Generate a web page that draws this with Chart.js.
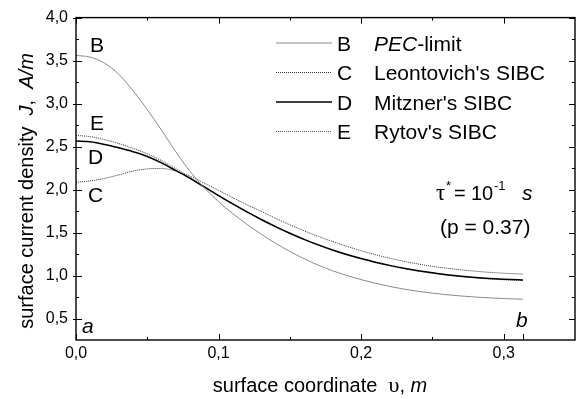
<!DOCTYPE html>
<html lang="en">
<head>
<meta charset="UTF-8">
<title>Surface current density</title>
<script src="https://cdn.jsdelivr.net/npm/chart.js"></script>
<style>
  html, body { margin: 0; padding: 0; background: #fff; }
  #wrap { width: 587px; height: 399px; }
</style>
</head>
<body>
<div id="wrap"><canvas id="chart" width="587" height="399"></canvas></div>
<script>
const coord = [0, 0.01, 0.02, 0.03, 0.04, 0.05, 0.06, 0.07, 0.08, 0.09, 0.10,
  0.11, 0.12, 0.13, 0.14, 0.15, 0.16, 0.17, 0.18, 0.19, 0.20,
  0.21, 0.22, 0.23, 0.24, 0.25, 0.26, 0.27, 0.28, 0.29, 0.30, 0.31, 0.3135];

// B - PEC limit
const pecLimit = [3.56, 3.54, 3.47, 3.34, 3.15, 2.93, 2.69, 2.44, 2.21, 2.02, 1.86,
  1.72, 1.595, 1.48, 1.375, 1.28, 1.195, 1.12, 1.055, 1.0, 0.952,
  0.91, 0.873, 0.842, 0.816, 0.795, 0.777, 0.762, 0.75, 0.74, 0.732, 0.726, 0.725];
// C - Leontovich's SIBC
const leontovich = [2.085, 2.10, 2.13, 2.17, 2.215, 2.24, 2.245, 2.215, 2.155, 2.075, 1.99,
  1.905, 1.823, 1.745, 1.665, 1.59, 1.52, 1.455, 1.395, 1.34, 1.288,
  1.242, 1.201, 1.165, 1.134, 1.107, 1.085, 1.066, 1.05, 1.037, 1.027, 1.019, 1.017];
// D - Mitzner's SIBC
const mitzner = [2.565, 2.555, 2.525, 2.485, 2.44, 2.385, 2.31, 2.22, 2.13, 2.03, 1.93,
  1.833, 1.74, 1.652, 1.569, 1.492, 1.421, 1.356, 1.297, 1.244, 1.197,
  1.155, 1.118, 1.085, 1.056, 1.031, 1.01, 0.992, 0.977, 0.965, 0.956, 0.95, 0.949];
// E - Rytov's SIBC
const rytov = [2.63, 2.615, 2.58, 2.535, 2.48, 2.415, 2.335, 2.24, 2.14, 2.035, 1.93,
  1.83, 1.736, 1.648, 1.565, 1.488, 1.417, 1.352, 1.293, 1.24, 1.193,
  1.151, 1.114, 1.081, 1.052, 1.027, 1.006, 0.988, 0.973, 0.961, 0.952, 0.946, 0.945];

const curveLetters = ['B', 'C', 'D', 'E'];
const legendNames = ['PEC-limit', "Leontovich's SIBC", "Mitzner's SIBC", "Rytov's SIBC"];

const xTickValues = [0, 0.1, 0.2, 0.3];
const xMinorValues = [0.05, 0.15, 0.25];
const endPoint = 0.3135; // point b
const yTickValues = [0.5, 1.0, 1.5, 2.0, 2.5, 3.0, 3.5, 4.0];
const yMinorValues = [0.75, 1.25, 1.75, 2.25, 2.75, 3.25, 3.75];

const ARIAL = '"Liberation Sans", Arial, sans-serif';
const SERIF = '"Liberation Serif", "Times New Roman", serif';

function toPoints(ys) {
  return coord.map((x, i) => ({ x: x, y: ys[i] }));
}

function commaNum(v) {
  return v.toFixed(1).replace('.', ',');
}

// draw a row of text pieces with different fonts
function drawRuns(ctx, parts, x, y) {
  parts.forEach(p => {
    ctx.font = p.f;
    ctx.fillText(p.t, x, y + (p.dy || 0));
    x += ctx.measureText(p.t).width;
  });
}
function runsWidth(ctx, parts) {
  return parts.reduce((w, p) => { ctx.font = p.f; return w + ctx.measureText(p.t).width; }, 0);
}

const extras = {
  id: 'extras',
  afterDraw(chart) {
    const { ctx, chartArea: a, scales: { x, y } } = chart;
    ctx.save();

    // frame
    ctx.strokeStyle = '#000';
    ctx.lineWidth = 1.4;
    ctx.strokeRect(a.left, a.top, a.right - a.left, a.bottom - a.top);

    // tick marks
    ctx.lineWidth = 1;
    ctx.beginPath();
    xTickValues.concat([endPoint]).forEach(v => {
      const px = Math.round(x.getPixelForValue(v)) + 0.5;
      ctx.moveTo(px, a.bottom); ctx.lineTo(px, a.bottom - 6);
      if (v !== endPoint) { ctx.moveTo(px, a.top); ctx.lineTo(px, a.top + 6); }
    });
    xMinorValues.forEach(v => {
      const px = Math.round(x.getPixelForValue(v)) + 0.5;
      ctx.moveTo(px, a.bottom); ctx.lineTo(px, a.bottom - 3);
      ctx.moveTo(px, a.top); ctx.lineTo(px, a.top + 3);
    });
    yTickValues.forEach(v => {
      const py = Math.round(y.getPixelForValue(v)) + 0.5;
      ctx.moveTo(a.left - 3, py); ctx.lineTo(a.left + 6, py);
      ctx.moveTo(a.right, py); ctx.lineTo(a.right - 6, py);
    });
    yMinorValues.forEach(v => {
      const py = Math.round(y.getPixelForValue(v)) + 0.5;
      ctx.moveTo(a.left, py); ctx.lineTo(a.left + 3, py);
      ctx.moveTo(a.right, py); ctx.lineTo(a.right - 3, py);
    });
    ctx.stroke();

    ctx.fillStyle = '#000';
    ctx.textBaseline = 'alphabetic';
    ctx.textAlign = 'left';
    const f20 = '20px ' + ARIAL;
    const f20i = 'italic 20px ' + ARIAL;
    const f21 = '21px ' + ARIAL;
    const f21i = 'italic 21px ' + ARIAL;

    // legend
    const rowBase = [50.5, 80, 109.5, 139];
    chart.data.datasets.forEach((ds, i) => {
      const ly = rowBase[i] - 7.5;
      ctx.save();
      ctx.strokeStyle = ds.borderColor;
      ctx.lineWidth = ds.borderWidth;
      ctx.setLineDash(ds.borderDash || []);
      ctx.beginPath();
      ctx.moveTo(276, ly); ctx.lineTo(332, ly);
      ctx.stroke();
      ctx.restore();
      ctx.font = f21;
      ctx.fillText(curveLetters[i], 337, rowBase[i]);
      if (i === 0) {
        drawRuns(ctx, [{ t: 'PEC', f: f21i }, { t: '-limit', f: f21 }], 374, rowBase[i]);
      } else {
        ctx.fillText(legendNames[i], 374, rowBase[i]);
      }
    });

    // curve letters at the left edge
    ctx.font = f21;
    ctx.fillText('B', 90, 52);
    ctx.fillText('E', 90, 130);
    ctx.fillText('D', 88, 164);
    ctx.fillText('C', 88, 202);
    ctx.font = f21i;
    ctx.fillText('a', 82, 332.5);
    ctx.fillText('b', 516, 326.5);

    // parameter note
    ctx.font = '23px ' + SERIF;
    ctx.fillText('\u03c4', 436, 200);
    ctx.font = '13px ' + ARIAL;
    ctx.fillText('*', 446, 190);
    ctx.font = f20;
    ctx.fillText('=', 454, 200);
    ctx.fillText('10', 471, 200);
    ctx.font = '13px ' + ARIAL;
    ctx.fillText('-1', 494, 190);
    ctx.font = f21i;
    ctx.fillText('s', 522, 200);
    ctx.font = f21;
    ctx.fillText('(p = 0.37)', 440, 234);

    // x axis title
    const xt = [
      { t: 'surface coordinate  ', f: f20 },
      { t: '\u03c5', f: '22px ' + SERIF },
      { t: ', ', f: f20 },
      { t: 'm', f: f20i }
    ];
    drawRuns(ctx, xt, 320 - runsWidth(ctx, xt) / 2, 392);

    // y axis title
    const yt = [
      { t: 'surface current density  ', f: f20 },
      { t: 'J', f: f20i },
      { t: ',  ', f: f20 },
      { t: 'A/m', f: f20i }
    ];
    ctx.translate(33, 191);
    ctx.rotate(-Math.PI / 2);
    drawRuns(ctx, yt, -runsWidth(ctx, yt) / 2, 0);

    ctx.restore();
  }
};

const common = { pointRadius: 0, fill: false, cubicInterpolationMode: 'monotone' };

new Chart(document.getElementById('chart'), {
  type: 'line',
  data: {
    datasets: [
      Object.assign({ label: 'B', data: toPoints(pecLimit), borderColor: '#8a8a8a', borderWidth: 1 }, common),
      Object.assign({ label: 'C', data: toPoints(leontovich), borderColor: '#333333', borderWidth: 1, borderDash: [1, 1] }, common),
      Object.assign({ label: 'D', data: toPoints(mitzner), borderColor: '#000000', borderWidth: 1.5 }, common),
      Object.assign({ label: 'E', data: toPoints(rytov), borderColor: '#555555', borderWidth: 1.2, borderDash: [1, 1] }, common)
    ]
  },
  options: {
    responsive: false,
    animation: false,
    devicePixelRatio: 1,
    layout: { padding: { top: 13, right: 12, left: 0, bottom: 0 } },
    plugins: { legend: { display: false }, tooltip: { enabled: false } },
    scales: {
      x: {
        type: 'linear',
        min: 0,
        max: 0.35,
        grid: { display: false, drawTicks: false },
        border: { display: false },
        afterBuildTicks: s => { s.ticks = xTickValues.map(v => ({ value: v })); },
        afterFit: s => { s.height = 59; },
        ticks: {
          color: '#000',
          font: { family: ARIAL, size: 16 },
          padding: 4,
          autoSkip: false,
          maxRotation: 0,
          callback: v => commaNum(v)
        }
      },
      y: {
        min: 0.25,
        max: 4.0,
        grid: { display: false, drawTicks: false },
        border: { display: false },
        afterBuildTicks: s => { s.ticks = yTickValues.map(v => ({ value: v })); },
        afterFit: s => { s.width = 76; },
        ticks: {
          color: '#000',
          font: { family: ARIAL, size: 16 },
          padding: 8,
          callback: v => commaNum(v)
        }
      }
    }
  },
  plugins: [extras]
});
</script>
</body>
</html>
